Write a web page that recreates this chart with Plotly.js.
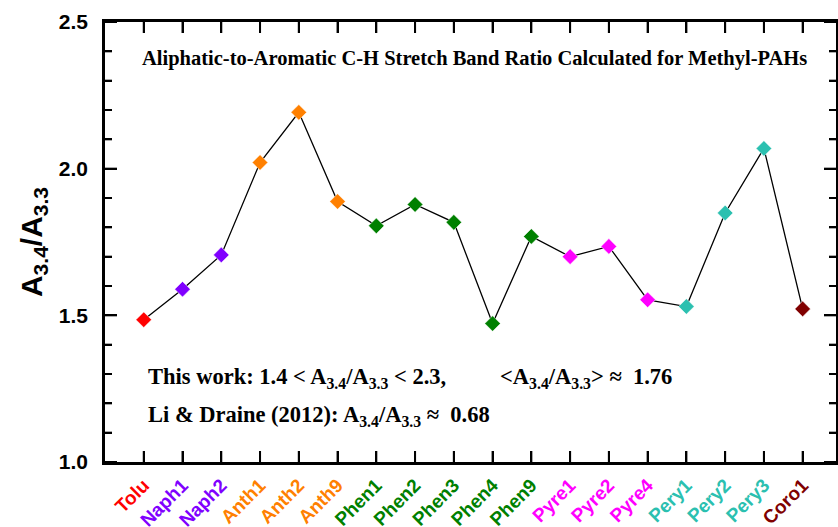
<!DOCTYPE html>
<html>
<head>
<meta charset="utf-8">
<script src="https://cdn.plot.ly/plotly-3.0.1.min.js"></script>
<style>html,body{margin:0;padding:0;background:#fff;}#chart{width:838px;height:527px;}.modebar-container{display:none !important;}</style>
</head>
<body>
<div id="chart"></div>
<script>
// Data
var categories = ["Tolu","Naph1","Naph2","Anth1","Anth2","Anth9","Phen1","Phen2","Phen3","Phen4","Phen9","Pyre1","Pyre2","Pyre4","Pery1","Pery2","Pery3","Coro1"];
var ratios = [1.485, 1.589, 1.706, 2.021, 2.192, 1.888, 1.805, 1.878, 1.817, 1.472, 1.769, 1.700, 1.735, 1.553, 1.530, 1.849, 2.069, 1.522];
var yTickVals = [1.0, 1.5, 2.0, 2.5];
var yTickText = ["1.0", "1.5", "2.0", "2.5"];

// Styles (one colour per molecule family)
var familyColors = ["#ff0000","#8000ff","#8000ff","#ff8000","#ff8000","#ff8000","#008000","#008000","#008000","#008000","#008000","#ff00ff","#ff00ff","#ff00ff","#2bc0b0","#2bc0b0","#2bc0b0","#800000"];

var tickText = categories.map(function(c, i){
  return '<span style="color:' + familyColors[i] + '">' + c + '</span>';
});

var trace = {
  x: categories, y: ratios, type: 'scatter', mode: 'lines+markers',
  line: {color: '#000', width: 1.3},
  marker: {symbol: 'diamond', size: 12, color: familyColors, line: {width: 0.5, color: '#ffffff'}},
  hoverinfo: 'x+y', showlegend: false
};

// Tick marks also drawn as axis-referenced shapes (inside, on all four sides)
var tickStyle = {color: '#000', width: 2};
var shapes = [];
categories.forEach(function(c, i){
  shapes.push({type: 'line', layer: 'above', xref: 'x', x0: i, x1: i, yref: 'paper', ysizemode: 'pixel', yanchor: 0, y0: 0, y1: 11, line: tickStyle});
  shapes.push({type: 'line', layer: 'above', xref: 'x', x0: i, x1: i, yref: 'paper', ysizemode: 'pixel', yanchor: 1, y0: 0, y1: -11, line: tickStyle});
});
var yMin = yTickVals[0], yMax = yTickVals[yTickVals.length - 1];
for (var k = 0; k <= Math.round((yMax - yMin) * 10); k++) {
  var v = +(yMin + k * 0.1).toFixed(2);
  var len = (k % 5 === 0) ? 12 : 7;
  shapes.push({type: 'line', layer: 'above', yref: 'y', y0: v, y1: v, xref: 'paper', xsizemode: 'pixel', xanchor: 0, x0: 0, x1: len, line: tickStyle});
  shapes.push({type: 'line', layer: 'above', yref: 'y', y0: v, y1: v, xref: 'paper', xsizemode: 'pixel', xanchor: 1, x0: 0, x1: -len, line: tickStyle});
}

var serif = '"Liberation Serif", "Times New Roman", serif';
var sans = '"Liberation Sans", Arial, sans-serif';
var nb = '&nbsp;';

var layout = {
  width: 838, height: 527,
  margin: {l: 105, r: 2, t: 22, b: 65},
  paper_bgcolor: '#fff', plot_bgcolor: '#fff',
  xaxis: {
    type: 'category', range: [-1, 17.86],
    tickmode: 'array', tickvals: categories, ticktext: tickText, tickangle: -45, showticklabels: true,
    tickfont: {family: sans, size: 19, weight: 700},
    ticks: 'inside', ticklen: 11, tickwidth: 2, tickcolor: '#000', ticklabelstandoff: 2,
    showline: true, linewidth: 2.5, linecolor: '#000000', mirror: 'allticks', showgrid: false, zeroline: false
  },
  yaxis: {
    range: [yMin, yMax], tickmode: 'array', tickvals: yTickVals, ticktext: yTickText, showticklabels: true,
    tickfont: {family: sans, size: 21, weight: 700, color: '#000'},
    ticks: 'inside', ticklen: 12, tickwidth: 2, tickcolor: '#000', ticklabelstandoff: 10,
    minor: {dtick: 0.1, tick0: 1.0, ticks: 'inside', ticklen: 7, tickwidth: 2, tickcolor: '#000', showgrid: false},
    showline: true, linewidth: 2.5, linecolor: '#000000', mirror: 'allticks', showgrid: false, zeroline: false,
    title: {text: 'A<sub>3.4</sub>/A<sub>3.3</sub>', font: {family: sans, size: 30, weight: 700, color: '#000'}, standoff: 8}
  },
  shapes: shapes,
  annotations: [
    {xref: 'paper', yref: 'paper', x: 0.506, y: 0.918, xanchor: 'center', yanchor: 'middle', showarrow: false,
     text: 'Aliphatic-to-Aromatic C-H Stretch Band Ratio Calculated for Methyl-PAHs',
     font: {family: serif, size: 20.5, weight: 700, color: '#000'}},
    {xref: 'paper', yref: 'paper', x: 0.056, y: 0.19, xanchor: 'left', yanchor: 'middle', showarrow: false,
     text: 'This work: 1.4 &lt; A<sub>3.4</sub>/A<sub>3.3</sub> &lt; 2.3,',
     font: {family: serif, size: 22.5, weight: 700, color: '#000'}},
    {xref: 'paper', yref: 'paper', x: 0.537, y: 0.19, xanchor: 'left', yanchor: 'middle', showarrow: false,
     text: '&lt;A<sub>3.4</sub>/A<sub>3.3</sub>&gt;' + nb + '\u2248' + nb + nb + '1.76',
     font: {family: serif, size: 22.5, weight: 700, color: '#000'}},
    {xref: 'paper', yref: 'paper', x: 0.056, y: 0.105, xanchor: 'left', yanchor: 'middle', showarrow: false,
     text: 'Li &amp; Draine (2012): A<sub>3.4</sub>/A<sub>3.3</sub>' + nb + '\u2248' + nb + nb + '0.68',
     font: {family: serif, size: 22.5, weight: 700, color: '#000'}}
  ]
};

Plotly.newPlot('chart', [trace], layout);
</script>
</body>
</html>
